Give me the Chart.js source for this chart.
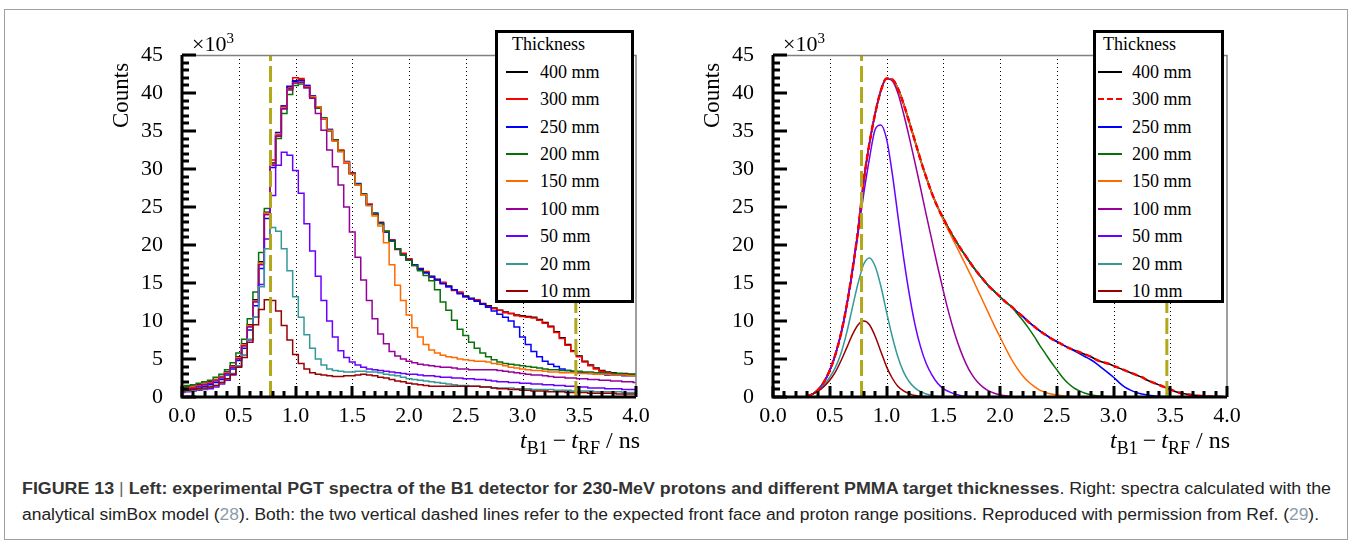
<!DOCTYPE html>
<html>
<head>
<meta charset="utf-8">
<script src="https://cdn.jsdelivr.net/npm/chart.js@4.4.1/dist/chart.umd.min.js"></script>
<style>
  body { margin: 0; background: #fff; width: 1352px; height: 544px; position: relative; overflow: hidden; font-family: 'Liberation Serif', 'Times New Roman', serif; color: #000; }
  .figbox { position: absolute; left: 4px; top: 9px; width: 1344px; height: 531px; border: 1px solid #a0a0a0; box-sizing: border-box; }
  canvas { position: absolute; }
  .legend { position: absolute; top: 30px; height: 273px; border: 3px solid #000; background: #fff; box-sizing: border-box; font-size: 18px; }
  .legend div { position: absolute; line-height: 20px; white-space: nowrap; }
  .legend span.sample { position: absolute; height: 0; border-top-width: 2px; }
  .ytitle { position: absolute; font-size: 23px; line-height: 26px; transform: rotate(-90deg); transform-origin: 0 0; white-space: nowrap; }
  .mult { position: absolute; font-size: 22px; line-height: 24px; white-space: nowrap; }
  .mult sup { font-size: 15px; vertical-align: 8px; line-height: 0; }
  .xtitle { position: absolute; top: 426px; font-size: 24px; line-height: 28px; white-space: nowrap; text-align: right; width: 220px; }
  .xtitle sub { font-size: 18px; vertical-align: -6px; line-height: 0; }
  .xtitle .op { margin: 0 5px; }
  .cap { position: absolute; left: 22px; font-family: 'Liberation Sans', Arial, sans-serif; font-size: 16px; line-height: 18px; color: #222; white-space: nowrap; display: inline-block; transform-origin: 0 0; }
  .cap b { color: #333; }
  .cap .ref { color: #8c9bab; }
  .cap .bar { color: #666; }
</style>
</head>
<body>
<div class="figbox"></div>

<canvas id="leftChart" width="560" height="420" style="left:100px; top:20px;"></canvas>
<canvas id="rightChart" width="560" height="420" style="left:691px; top:20px;"></canvas>

<div class="ytitle" style="left:108px; top:128px;">Counts</div>
<div class="ytitle" style="left:699px; top:128px;">Counts</div>
<div class="mult" style="left:192px; top:32px;">×10<sup>3</sup></div>
<div class="mult" style="left:783px; top:32px;">×10<sup>3</sup></div>
<div class="xtitle" style="left:420px;"><i>t</i><sub>B1</sub><span class="op">−</span><i>t</i><sub>RF</sub> / ns</div>
<div class="xtitle" style="left:1010px;"><i>t</i><sub>B1</sub><span class="op">−</span><i>t</i><sub>RF</sub> / ns</div>

<div class="legend" id="leftLegend" style="left:495px; width:139px;"></div>
<div class="legend" id="rightLegend" style="left:1093px; width:131px;"></div>

<div class="cap" id="cap1" style="top:480px;"><b>FIGURE 13</b> <span class="bar">|</span> <b>Left: experimental PGT spectra of the B1 detector for 230-MeV protons and different PMMA target thicknesses</b>. Right: spectra calculated with the</div>
<div class="cap" id="cap2" style="top:506px;">analytical simBox model (<span class="ref">28</span>). Both: the two vertical dashed lines refer to the expected front face and proton range positions. Reproduced with permission from Ref. (<span class="ref">29</span>).</div>

<script>
// Legend entries and line colours
const thicknessLabels = ['400 mm', '300 mm', '250 mm', '200 mm', '150 mm', '100 mm', '50 mm', '20 mm', '10 mm'];
const seriesColors = ['#000000', '#ff0000', '#0000ff', '#087008', '#ff6a00', '#990099', '#6a00ff', '#339999', '#990000'];

// Axis ticks (ns and counts x 10^3)
const xTickValues = [0.0, 0.5, 1.0, 1.5, 2.0, 2.5, 3.0, 3.5, 4.0];
const yTickValues = [0, 5, 10, 15, 20, 25, 30, 35, 40, 45];
const gridValues = [0.5, 1.0, 1.5, 2.0, 2.5, 3.0, 3.5];
// expected front face and proton range positions
const markerLines = [0.78, 3.47];

// Left: measured histograms (bin centres, ns)
const tLeft = [0.00, 0.05, 0.10, 0.15, 0.20, 0.25, 0.30, 0.35, 0.40, 0.45,
  0.50, 0.55, 0.60, 0.65, 0.70, 0.75, 0.80, 0.85, 0.90, 0.95,
  1.00, 1.05, 1.10, 1.15, 1.20, 1.25, 1.30, 1.35, 1.40, 1.45,
  1.50, 1.55, 1.60, 1.65, 1.70, 1.75, 1.80, 1.85, 1.90, 1.95,
  2.00, 2.05, 2.10, 2.15, 2.20, 2.25, 2.30, 2.35, 2.40, 2.45,
  2.50, 2.55, 2.60, 2.65, 2.70, 2.75, 2.80, 2.85, 2.90, 2.95,
  3.00, 3.05, 3.10, 3.15, 3.20, 3.25, 3.30, 3.35, 3.40, 3.45,
  3.50, 3.55, 3.60, 3.65, 3.70, 3.75, 3.80, 3.85, 3.90, 3.95,
  4.00];

const left400 = [1.2, 1.3, 1.4, 1.6, 1.8, 2.0, 2.3, 2.7, 3.3, 4.1,
  5.3, 7.0, 9.5, 12.8, 17.8, 24.3, 30.8, 34.5, 38.0, 40.6,
  41.5, 41.7, 40.9, 39.5, 38.1, 36.7, 35.1, 33.8, 32.4, 30.9,
  29.4, 28.0, 26.7, 25.3, 24.1, 22.9, 21.8, 20.6, 19.5, 18.8,
  18.1, 17.4, 16.9, 16.4, 15.9, 15.5, 15.0, 14.6, 14.1, 13.7,
  13.3, 13.0, 12.7, 12.3, 12.0, 11.7, 11.4, 11.2, 11.0, 10.8,
  10.7, 10.6, 10.5, 10.2, 9.8, 9.3, 8.6, 7.8, 6.9, 6.1,
  5.4, 4.7, 4.2, 3.8, 3.5, 3.3, 3.2, 3.1, 3.1, 3.0,
  3.0];
const left300 = [1.1, 1.2, 1.4, 1.5, 1.7, 1.9, 2.2, 2.6, 3.2, 4.0,
  5.1, 6.8, 9.3, 12.6, 17.5, 24.0, 31.2, 34.3, 38.3, 40.8,
  42.0, 41.9, 41.0, 39.6, 38.0, 36.6, 35.2, 33.7, 32.5, 30.8,
  29.5, 27.9, 26.6, 25.4, 24.0, 23.0, 21.7, 20.7, 19.4, 18.9,
  18.2, 17.3, 16.8, 16.5, 15.8, 15.4, 15.1, 14.5, 14.0, 13.8,
  13.2, 12.9, 12.8, 12.2, 11.9, 11.6, 11.4, 11.1, 11.0, 10.7,
  10.6, 10.5, 10.4, 10.1, 9.7, 9.2, 8.5, 7.7, 6.8, 6.0,
  5.3, 4.6, 4.1, 3.7, 3.4, 3.2, 3.1, 3.0, 3.0, 2.9,
  2.9];
const left250 = [0.9, 1.0, 1.1, 1.2, 1.4, 1.6, 1.9, 2.3, 2.9, 3.7,
  4.8, 6.4, 8.8, 12.0, 16.9, 23.5, 30.2, 34.8, 38.3, 40.9,
  41.6, 41.6, 41.0, 39.6, 38.2, 36.6, 35.2, 33.8, 32.3, 31.0,
  29.4, 28.1, 26.7, 25.3, 24.2, 22.9, 21.7, 20.6, 19.5, 18.7,
  18.0, 17.4, 16.8, 16.3, 15.8, 15.4, 14.9, 14.5, 14.1, 13.6,
  13.2, 12.9, 12.6, 12.2, 11.8, 11.3, 10.9, 10.5, 10.0, 9.2,
  7.9, 6.9, 6.0, 5.3, 4.7, 4.3, 4.0, 3.7, 3.5, 3.4,
  3.3, 3.2, 3.1, 3.0, 3.0, 2.9, 2.9, 2.9, 2.8, 2.8,
  2.8];
const left200 = [1.4, 1.5, 1.6, 1.8, 2.0, 2.2, 2.6, 3.0, 3.6, 4.5,
  5.8, 7.6, 10.3, 13.8, 19.0, 24.8, 30.5, 34.0, 37.3, 39.8,
  41.0, 41.2, 40.7, 39.4, 38.0, 36.7, 35.0, 33.8, 32.4, 30.9,
  29.3, 28.0, 26.7, 25.2, 24.1, 22.8, 21.8, 20.5, 19.5, 18.7,
  18.0, 17.3, 16.6, 16.0, 15.3, 14.1, 12.5, 11.4, 10.1, 8.9,
  8.1, 7.2, 6.4, 5.8, 5.3, 4.9, 4.6, 4.4, 4.3, 4.2,
  4.1, 4.0, 3.9, 3.8, 3.7, 3.6, 3.6, 3.5, 3.5, 3.4,
  3.4, 3.3, 3.3, 3.2, 3.2, 3.1, 3.1, 3.1, 3.0, 3.0,
  3.0];
const left150 = [1.1, 1.2, 1.3, 1.5, 1.7, 1.9, 2.2, 2.6, 3.2, 4.0,
  5.2, 6.9, 9.4, 12.6, 17.6, 24.2, 30.6, 34.6, 38.1, 40.5,
  41.3, 41.4, 40.8, 39.5, 38.2, 36.6, 35.1, 33.7, 32.3, 30.9,
  29.3, 27.9, 26.6, 25.2, 23.8, 22.5, 20.3, 17.4, 14.7, 12.7,
  10.8, 9.1, 7.9, 6.9, 6.2, 5.8, 5.5, 5.3, 5.2, 5.0,
  4.9, 4.8, 4.7, 4.7, 4.6, 4.4, 4.3, 4.1, 3.9, 3.8,
  3.7, 3.6, 3.5, 3.5, 3.4, 3.3, 3.3, 3.2, 3.2, 3.2,
  3.1, 3.1, 3.1, 3.0, 3.0, 3.0, 2.9, 2.9, 2.9, 2.8,
  2.8];
const left100 = [1.0, 1.1, 1.2, 1.4, 1.6, 1.8, 2.1, 2.5, 3.1, 3.9,
  5.0, 6.7, 9.2, 12.5, 17.4, 24.0, 30.5, 34.3, 37.9, 40.4,
  41.3, 41.4, 40.7, 39.3, 37.3, 35.1, 32.5, 30.3, 27.9, 25.0,
  21.7, 18.4, 15.4, 12.7, 10.3, 8.3, 7.0, 6.0, 5.4, 5.0,
  4.7, 4.5, 4.3, 4.2, 4.1, 4.0, 3.9, 3.9, 3.8, 3.7,
  3.7, 3.6, 3.6, 3.6, 3.6, 3.6, 3.5, 3.4, 3.3, 3.2,
  3.1, 3.0, 2.9, 2.9, 2.8, 2.7, 2.6, 2.6, 2.5, 2.5,
  2.4, 2.4, 2.3, 2.3, 2.2, 2.2, 2.1, 2.1, 2.0, 2.0,
  1.9];
const left50 = [0.6, 0.7, 0.8, 0.9, 1.0, 1.1, 1.3, 1.7, 2.2, 2.9,
  4.0, 5.5, 7.5, 10.5, 14.8, 20.8, 26.5, 30.5, 32.2, 31.8,
  29.8, 26.8, 22.8, 19.2, 15.9, 12.7, 10.0, 7.9, 6.1, 5.2,
  4.6, 4.2, 3.9, 3.7, 3.6, 3.5, 3.4, 3.3, 3.2, 3.1,
  3.0, 3.0, 2.9, 2.8, 2.8, 2.7, 2.6, 2.6, 2.5, 2.5,
  2.4, 2.4, 2.3, 2.3, 2.2, 2.1, 2.0, 2.0, 1.9, 1.9,
  1.8, 1.8, 1.7, 1.7, 1.6, 1.6, 1.5, 1.5, 1.4, 1.4,
  1.3, 1.3, 1.2, 1.2, 1.2, 1.1, 1.1, 1.1, 1.0, 1.0,
  1.0];
const left20 = [0.7, 0.8, 0.9, 1.0, 1.1, 1.3, 1.5, 1.9, 2.4, 3.1,
  4.1, 5.5, 7.6, 10.5, 14.5, 19.5, 22.3, 21.8, 19.5, 16.6,
  13.2, 10.5, 8.2, 6.4, 5.0, 4.2, 3.7, 3.5, 3.4, 3.3,
  3.3, 3.4, 3.4, 3.3, 3.3, 3.2, 3.0, 2.9, 2.8, 2.6,
  2.4, 2.3, 2.2, 2.1, 2.0, 1.9, 1.8, 1.7, 1.6, 1.5,
  1.5, 1.4, 1.4, 1.3, 1.3, 1.2, 1.2, 1.2, 1.2, 1.1,
  1.1, 1.1, 1.0, 1.0, 1.0, 1.0, 0.9, 0.9, 0.9, 0.8,
  0.8, 0.8, 0.8, 0.7, 0.7, 0.7, 0.7, 0.7, 0.6, 0.6,
  0.6];
const left10 = [0.8, 0.9, 1.0, 1.1, 1.2, 1.3, 1.5, 1.9, 2.4, 3.0,
  3.9, 5.2, 7.2, 9.5, 11.5, 12.8, 12.7, 11.3, 9.4, 7.5,
  5.6, 4.4, 3.7, 3.2, 3.0, 2.9, 2.8, 2.7, 2.7, 2.8,
  2.8, 2.9, 3.0, 2.9, 2.8, 2.6, 2.5, 2.3, 2.1, 2.0,
  1.8, 1.7, 1.6, 1.5, 1.4, 1.4, 1.4, 1.4, 1.4, 1.4,
  1.4, 1.4, 1.4, 1.3, 1.3, 1.2, 1.1, 1.1, 1.0, 1.0,
  0.9, 0.9, 0.8, 0.8, 0.8, 0.7, 0.7, 0.7, 0.6, 0.6,
  0.6, 0.6, 0.5, 0.5, 0.5, 0.5, 0.5, 0.4, 0.4, 0.4,
  0.4];

// Right: simBox model (ns); each curve stops where it has reached zero
const tRight = [0.30, 0.35, 0.40, 0.45, 0.50, 0.55, 0.60, 0.65, 0.70, 0.75,
  0.80, 0.85, 0.90, 0.95, 1.00, 1.05, 1.10, 1.15, 1.20, 1.25,
  1.30, 1.35, 1.40, 1.45, 1.50, 1.55, 1.60, 1.65, 1.70, 1.75,
  1.80, 1.85, 1.90, 1.95, 2.00, 2.05, 2.10, 2.15, 2.20, 2.25,
  2.30, 2.35, 2.40, 2.45, 2.50, 2.55, 2.60, 2.65, 2.70, 2.75,
  2.80, 2.85, 2.90, 2.95, 3.00, 3.05, 3.10, 3.15, 3.20, 3.25,
  3.30, 3.35, 3.40, 3.45, 3.50, 3.55, 3.60, 3.65, 3.70, 3.75,
  3.80, 3.85, 3.90, 3.95, 4.00];

const right400 = [0.1, 0.4, 1.0, 2.0, 3.5, 5.6, 8.4, 12.1, 16.7, 22.0,
  28.5, 33.4, 37.3, 40.3, 41.9, 41.8, 40.6, 38.6, 36.2, 33.7,
  31.2, 28.9, 26.8, 25.0, 23.5, 22.1, 20.8, 19.6, 18.5, 17.4,
  16.4, 15.5, 14.6, 13.9, 13.2, 12.5, 11.9, 11.2, 10.6, 9.9,
  9.3, 8.7, 8.2, 7.7, 7.3, 6.9, 6.5, 6.2, 5.9, 5.6,
  5.3, 4.9, 4.6, 4.4, 4.1, 3.8, 3.5, 3.2, 2.9, 2.6,
  2.2, 1.9, 1.6, 1.3, 1.0, 0.7, 0.5, 0.35, 0.25, 0.18,
  0.12, 0.08, 0.05, 0.03, 0.02];
const right300 = [0.1, 0.4, 1.0, 2.0, 3.5, 5.6, 8.4, 12.1, 16.7, 22.0,
  28.5, 33.4, 37.3, 40.3, 41.9, 41.8, 40.6, 38.6, 36.2, 33.7,
  31.2, 28.9, 26.8, 25.0, 23.5, 22.1, 20.8, 19.6, 18.5, 17.4,
  16.4, 15.5, 14.6, 13.9, 13.2, 12.5, 11.9, 11.2, 10.6, 9.9,
  9.3, 8.7, 8.2, 7.7, 7.3, 6.9, 6.5, 6.2, 5.9, 5.6,
  5.3, 4.9, 4.6, 4.4, 4.1, 3.8, 3.5, 3.2, 2.9, 2.6,
  2.2, 1.9, 1.6, 1.3, 1.0, 0.7, 0.5, 0.35, 0.25, 0.18,
  0.12, 0.08, 0.05, 0.03, 0.02];
const right250 = [0.1, 0.4, 1.0, 2.0, 3.5, 5.6, 8.4, 12.1, 16.7, 22.0,
  28.5, 33.4, 37.3, 40.3, 41.9, 41.8, 40.6, 38.6, 36.2, 33.7,
  31.2, 28.9, 26.8, 25.0, 23.5, 22.1, 20.8, 19.6, 18.5, 17.4,
  16.4, 15.5, 14.6, 13.9, 13.2, 12.5, 11.9, 11.2, 10.6, 9.9,
  9.3, 8.7, 8.2, 7.7, 7.3, 6.9, 6.5, 6.1, 5.7, 5.3,
  4.9, 4.4, 3.8, 3.2, 2.6, 1.9, 1.3, 0.9, 0.6, 0.4,
  0.25, 0.15, 0.1, 0.06, 0.04, 0.02, 0.01];
const right200 = [0.1, 0.4, 1.0, 2.0, 3.5, 5.6, 8.4, 12.1, 16.7, 22.0,
  28.5, 33.4, 37.3, 40.3, 41.9, 41.8, 40.6, 38.6, 36.2, 33.7,
  31.2, 28.9, 26.8, 25.0, 23.5, 22.1, 20.8, 19.6, 18.5, 17.4,
  16.4, 15.5, 14.6, 13.9, 13.2, 12.5, 11.9, 11.0, 10.1, 9.1,
  8.0, 6.8, 5.7, 4.6, 3.6, 2.6, 1.8, 1.2, 0.8, 0.5,
  0.3, 0.18, 0.1, 0.06, 0.03];
const right150 = [0.1, 0.4, 1.0, 2.0, 3.5, 5.6, 8.4, 12.1, 16.7, 22.0,
  28.5, 33.4, 37.3, 40.3, 41.9, 41.8, 40.6, 38.6, 36.2, 33.7,
  31.2, 28.9, 26.8, 25.0, 23.3, 21.8, 20.3, 18.8, 17.3, 15.8,
  14.2, 12.6, 11.0, 9.4, 7.9, 6.4, 5.0, 3.8, 2.8, 2.0,
  1.4, 0.9, 0.6, 0.4, 0.25, 0.15, 0.08, 0.04];
const right100 = [0.1, 0.4, 1.0, 2.0, 3.5, 5.6, 8.4, 12.1, 16.7, 22.0,
  28.5, 33.4, 37.3, 40.3, 41.9, 41.6, 40.0, 37.3, 34.2, 30.9,
  27.5, 24.0, 20.6, 17.2, 14.0, 11.0, 8.4, 6.2, 4.4, 3.0,
  2.0, 1.3, 0.8, 0.5, 0.3, 0.15, 0.08];
const right50 = [0.1, 0.4, 1.0, 2.0, 3.5, 5.6, 8.4, 12.1, 16.6, 21.6,
  26.8, 31.4, 35.2, 35.8, 34.0, 29.5, 23.9, 18.4, 13.6, 9.6,
  6.6, 4.4, 2.9, 1.8, 1.1, 0.7, 0.4, 0.2, 0.1, 0.05];
const right20 = [0.1, 0.4, 0.9, 1.6, 2.6, 3.9, 5.8, 8.5, 11.8, 15.0,
  17.5, 18.3, 17.2, 14.6, 11.2, 8.0, 5.3, 3.3, 2.0, 1.2,
  0.7, 0.4, 0.2, 0.1, 0.05, 0.02];
const right10 = [0.1, 0.4, 0.8, 1.4, 2.2, 3.3, 4.8, 6.5, 8.2, 9.5,
  10.0, 9.5, 8.0, 6.0, 4.0, 2.5, 1.4, 0.8, 0.45, 0.2,
  0.1, 0.05];

const leftSeries = [left400, left300, left250, left200, left150, left100, left50, left20, left10];
const rightSeries = [right400, right300, right250, right200, right150, right100, right50, right20, right10];

function curveSets(tArr, series, histogram) {
    return series.map(function (vals, i) {
        return {
            label: thicknessLabels[i],
            data: vals.map(function (v, k) { return { x: tArr[k], y: v }; }),
            borderColor: seriesColors[i],
            borderWidth: 1.5,
            pointRadius: 0,
            stepped: histogram ? 'middle' : false,
            cubicInterpolationMode: histogram ? 'default' : 'monotone',
            order: series.length - i
        };
    });
}

function markerSets() {
    return markerLines.map(function (t) {
        return {
            label: 'marker',
            data: [{ x: t, y: 0 }, { x: t, y: 45 }],
            borderColor: '#b3a81c',
            borderWidth: 3,
            borderDash: [16, 5],
            pointRadius: 0,
            order: 0
        };
    });
}

// ROOT-like frame: dotted grid, thick axes with inward ticks
const rootFrame = {
    id: 'rootFrame',
    beforeDatasetsDraw: function (chart) {
        const ctx = chart.ctx, a = chart.chartArea, x = chart.scales.x;
        ctx.save();
        ctx.strokeStyle = '#000';
        ctx.lineWidth = 1;
        ctx.setLineDash([1, 3]);
        gridValues.forEach(function (v) {
            const px = Math.round(x.getPixelForValue(v)) + 0.5;
            ctx.beginPath();
            ctx.moveTo(px, a.top);
            ctx.lineTo(px, a.bottom);
            ctx.stroke();
        });
        ctx.restore();
    },
    afterDraw: function (chart) {
        const ctx = chart.ctx, a = chart.chartArea, x = chart.scales.x, y = chart.scales.y;
        ctx.save();
        ctx.strokeStyle = '#808080';
        ctx.lineWidth = 1.5;
        ctx.beginPath();
        ctx.moveTo(a.left, a.top + 0.5);
        ctx.lineTo(a.right, a.top + 0.5);
        ctx.lineTo(a.right, a.bottom);
        ctx.stroke();

        ctx.strokeStyle = '#000';
        ctx.lineWidth = 3;
        ctx.beginPath();
        ctx.moveTo(a.left, a.top);
        ctx.lineTo(a.left, a.bottom);
        ctx.lineTo(a.right, a.bottom);
        ctx.stroke();

        for (let k = 0; k <= 45; k++) {
            const py = Math.round(y.getPixelForValue(k));
            const len = k % 5 === 0 ? 14 : 7;
            ctx.beginPath();
            ctx.moveTo(a.left, py);
            ctx.lineTo(a.left + len, py);
            ctx.stroke();
        }
        for (let k = 0; k <= 40; k++) {
            const px = Math.round(x.getPixelForValue(k / 10));
            const len = k % 5 === 0 ? 11 : 6;
            ctx.beginPath();
            ctx.moveTo(px, a.bottom);
            ctx.lineTo(px, a.bottom - len);
            ctx.stroke();
        }
        ctx.restore();
    }
};

function makeChart(id, datasets) {
    const tickFont = { family: "'Liberation Serif', serif", size: 22 };
    return new Chart(document.getElementById(id), {
        type: 'line',
        data: { datasets: datasets },
        options: {
            responsive: false,
            animation: false,
            events: [],
            layout: { padding: { top: 35, right: 24, left: 0, bottom: 0 } },
            plugins: { legend: { display: false }, tooltip: { enabled: false } },
            scales: {
                x: {
                    type: 'linear',
                    min: 0,
                    max: 4,
                    grid: { display: false, drawTicks: false },
                    border: { display: false },
                    afterBuildTicks: function (scale) {
                        scale.ticks = xTickValues.map(function (v) { return { value: v }; });
                    },
                    afterFit: function (scale) { scale.height = 43; },
                    ticks: {
                        autoSkip: false,
                        maxRotation: 0,
                        padding: 6,
                        color: '#000',
                        font: tickFont,
                        callback: function (v) { return Number(v).toFixed(1); }
                    }
                },
                y: {
                    min: 0,
                    max: 45,
                    grid: { display: false, drawTicks: false },
                    border: { display: false },
                    afterBuildTicks: function (scale) {
                        scale.ticks = yTickValues.map(function (v) { return { value: v }; });
                    },
                    afterFit: function (scale) { scale.width = 82; },
                    ticks: {
                        padding: 19,
                        color: '#000',
                        font: tickFont,
                        callback: function (v) { return String(v); }
                    }
                }
            }
        },
        plugins: [rootFrame]
    });
}

// Right 300 mm curve is dashed red over the black 400 mm curve
const rightSets = curveSets(tRight, rightSeries, false);
rightSets[1].borderDash = [6, 4];
rightSets[1].borderWidth = 2.5;
rightSets[1].order = 0.5;

makeChart('leftChart', curveSets(tLeft, leftSeries, true).concat(markerSets()));
makeChart('rightChart', rightSets.concat(markerSets()));

// Legends (HTML boxes like the ROOT TLegend)
function buildLegend(id, sampleLeft, sampleWidth, textLeft, titleLeft, dashedIndex) {
    const box = document.getElementById(id);
    const title = document.createElement('div');
    title.textContent = 'Thickness';
    title.style.left = titleLeft + 'px';
    title.style.top = '1px';
    box.appendChild(title);
    thicknessLabels.forEach(function (lab, i) {
        const centre = 38.7 + 27.4 * i;
        const s = document.createElement('span');
        s.className = 'sample';
        s.style.left = sampleLeft + 'px';
        s.style.width = sampleWidth + 'px';
        s.style.top = (centre - 1) + 'px';
        s.style.borderTopStyle = i === dashedIndex ? 'dashed' : 'solid';
        s.style.borderTopColor = seriesColors[i];
        box.appendChild(s);
        const t = document.createElement('div');
        t.textContent = lab;
        t.style.left = textLeft + 'px';
        t.style.top = (centre - 10) + 'px';
        box.appendChild(t);
    });
}
buildLegend('leftLegend', 8, 22, 42, 14, -1);
buildLegend('rightLegend', 2, 24, 36, 7, 1);

// Fit caption lines to the figure width
[['cap1', 1309], ['cap2', 1297]].forEach(function (c) {
    const el = document.getElementById(c[0]);
    const w = el.getBoundingClientRect().width;
    el.style.transform = 'scaleX(' + (c[1] / w) + ')';
});
</script>
</body>
</html>
